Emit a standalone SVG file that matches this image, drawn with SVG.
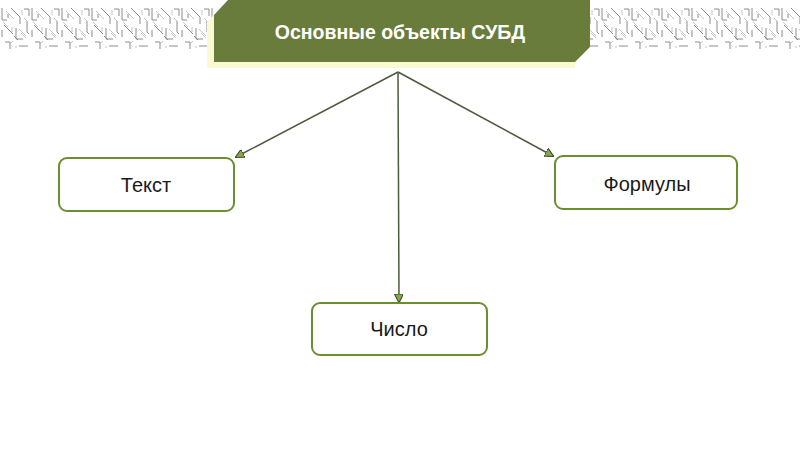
<svg xmlns="http://www.w3.org/2000/svg" width="800" height="450" viewBox="0 0 800 450">
<defs>
<style>
.node rect{fill:#ffffff;stroke:#6b8e2f;stroke-width:2}
.lbl{font-family:"Liberation Sans",Arial,sans-serif;font-size:20px;fill:#1a1a1a;text-anchor:middle;dominant-baseline:central}
.title{font-family:"Liberation Sans",Arial,sans-serif;font-size:19.5px;font-weight:bold;fill:#ffffff;text-anchor:middle;dominant-baseline:central}
.conn line{stroke:#4d5a3c;stroke-width:1.5;fill:none}
.tex{stroke:#8c8c8c;stroke-width:1;fill:none}
.tex2{stroke:#c4c4c4;stroke-width:1;fill:none}
</style>
<marker id="arr" viewBox="0 0 10 10" refX="9" refY="5" markerWidth="9" markerHeight="9" orient="auto" markerUnits="userSpaceOnUse">
<path d="M0,0 L10,5 L0,10 Z" fill="#8aa64a" stroke="#3d4a2c" stroke-width="1.2"/>
</marker>
<pattern id="circ" x="0" y="6" width="30" height="46" patternUnits="userSpaceOnUse">
<path class="tex" d="M2,2 V14 H7 M11,2 L20,11 V18 M24,3 H29 V10 M4,19 L13,28 M16,22 V33 H23 M27,15 V26 L29,28 M5,36 H10 V43 M19,40 H28 M2,24 V31 M8,8 V12 M14,30 L18,34"/>
<path class="tex2" d="M6,5 L14,13 M22,4 V9 M26,30 L19,23 M9,39 L13,35 M3,16 L8,21 M12,21 V26 M21,27 L26,32 M15,41 H17 M24,12 L28,16"/>
</pattern>
</defs>
<rect width="800" height="450" fill="#ffffff"/>
<g id="texture">
<rect x="0" y="6" width="214" height="46" fill="url(#circ)"/>
<rect x="590" y="6" width="210" height="46" fill="url(#circ)"/>
</g>
<g id="title">
<polygon points="207,22 221,7 575,7 575,68 207,68" fill="#fafad2"/>
<polygon points="214,15 228,0 590,0 590,47 575,62 214,62" fill="#6a7c3b"/>
<text class="title" x="400" y="32">Основные объекты СУБД</text>
</g>
<g id="connectors" class="conn">
<line x1="398" y1="72" x2="236" y2="157" marker-end="url(#arr)"/>
<line x1="398" y1="72" x2="553" y2="156" marker-end="url(#arr)"/>
<line x1="398" y1="72" x2="399" y2="302" marker-end="url(#arr)"/>
</g>
<g id="node-text" class="node">
<rect x="59" y="158" width="175" height="53" rx="8"/>
<text class="lbl" x="146" y="185">Текст</text>
</g>
<g id="node-formulas" class="node">
<rect x="555" y="156" width="182" height="53" rx="8"/>
<text class="lbl" x="647" y="184">Формулы</text>
</g>
<g id="node-number" class="node">
<rect x="312" y="303" width="175" height="52" rx="8"/>
<text class="lbl" x="399" y="329">Число</text>
</g>
</svg>
